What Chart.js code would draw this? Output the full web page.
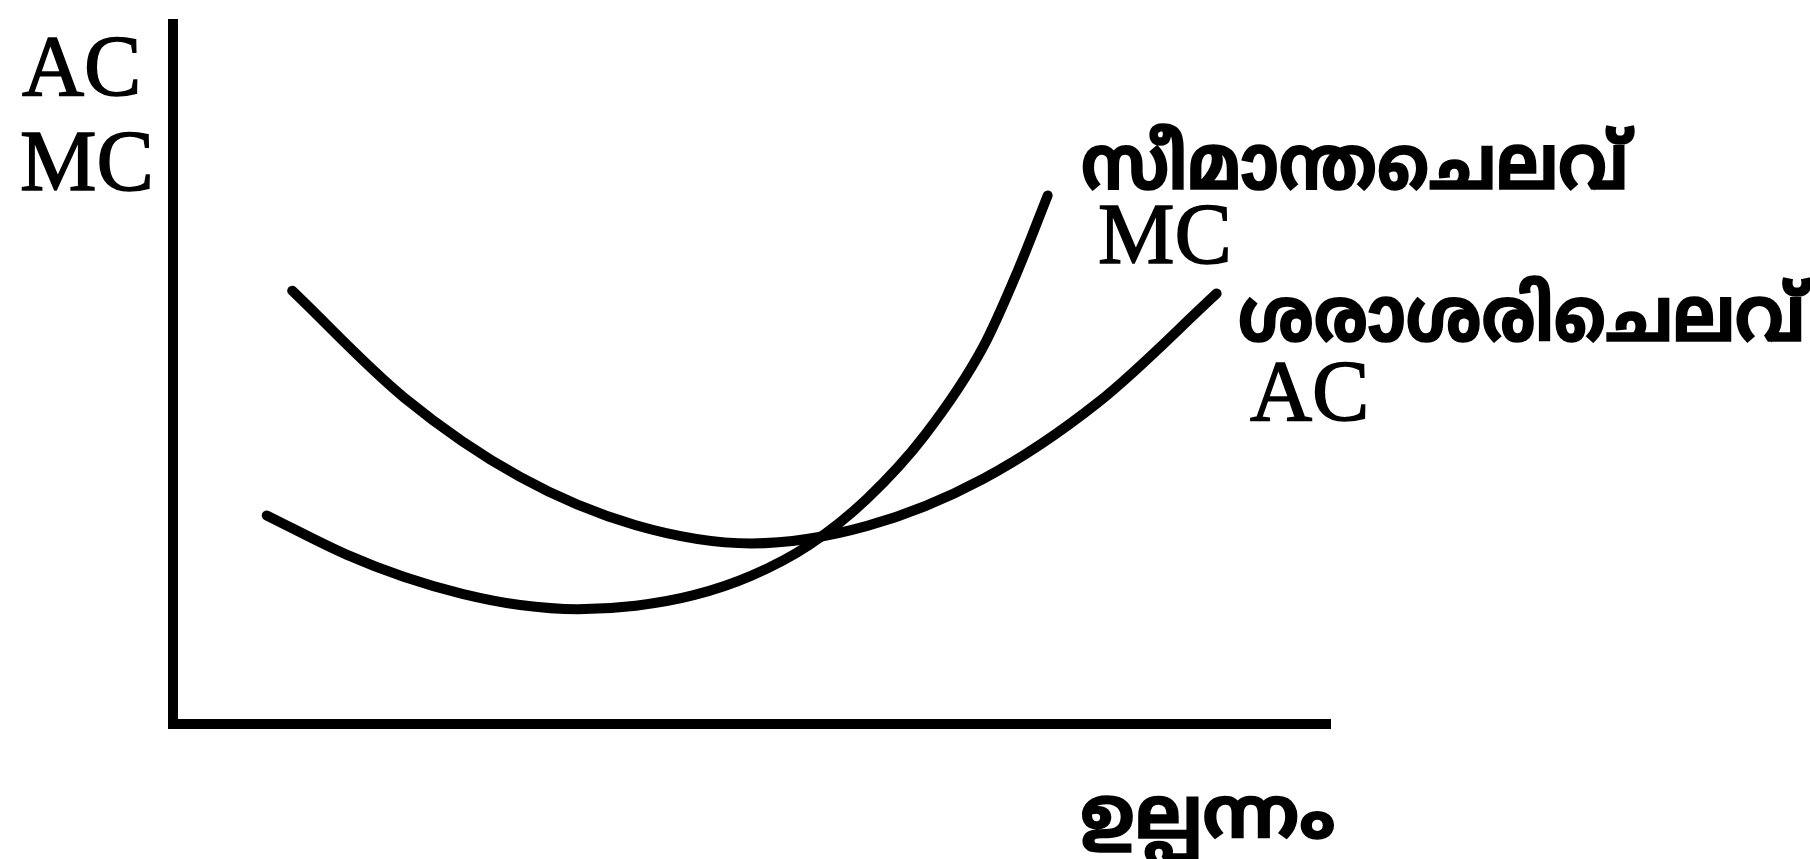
<!DOCTYPE html>
<html>
<head>
<meta charset="utf-8">
<script src="https://cdn.jsdelivr.net/npm/chart.js@4.4.1/dist/chart.umd.min.js"></script>
<style>
  html, body { margin: 0; padding: 0; background: #fff; }
  #wrap { width: 1810px; height: 859px; }
</style>
</head>
<body>
<div id="wrap"><canvas id="costChart" width="1810" height="859"></canvas></div>
<script>
// Output (x) positions and cost values
const acOutput = [10.3, 20, 30, 40, 50, 60, 70, 80, 90.2];
const acCost   = [61.9, 46.6, 35.3, 28.4, 25.8, 28.3, 35.0, 46.0, 61.5];

const mcOutput = [8.1, 15, 20, 25, 30, 35, 40, 45, 50, 55, 60, 65, 70, 73, 75.6];
const mcCost   = [29.8, 24.2, 21.0, 18.6, 17.0, 16.4, 16.9, 18.4, 21.2, 25.6, 32.2, 41.3, 53.8, 64.7, 75.5];

// Labels
const yAxisLabel = ['AC', 'MC'];
const xAxisLabel = 'ഉല്പന്നം';
const mcName = 'സീമാന്തചെലവ്';
const acName = 'ശരാശരിചെലവ്';

const toPoints = (xs, ys) => xs.map((x, i) => ({ x: x, y: ys[i] }));

const serif = '"Liberation Serif", "DejaVu Serif", serif';
const mal = '"Noto Sans Malayalam", "Noto Sans", "DejaVu Sans", sans-serif';

// Draw the text labels around the diagram
const labelPlugin = {
  id: 'labels',
  afterDraw(chart) {
    const ctx = chart.ctx;
    ctx.save();
    ctx.fillStyle = '#000';
    ctx.strokeStyle = '#000';
    ctx.lineWidth = 1.5;
    ctx.textBaseline = 'alphabetic';
    ctx.textAlign = 'left';

    const put = (t, x, y) => { ctx.fillText(t, x, y); ctx.strokeText(t, x, y); };
    // malayalam glyphs in the scan are a bit taller than this font
    const putTall = (t, x, y) => {
      ctx.save();
      ctx.translate(x, y);
      ctx.scale(1, 1.15);
      put(t, 0, 0);
      ctx.restore();
    };

    ctx.font = '86px ' + serif;
    put(yAxisLabel[0], 22, 95);
    put(yAxisLabel[1], 20, 190);
    put('MC', 1098, 263);
    put('AC', 1250, 420);

    ctx.font = 'bold 66px ' + mal;
    putTall(mcName, 1081, 189);
    putTall(acName, 1238, 341);
    ctx.font = 'bold 72px ' + mal;
    put(xAxisLabel, 1080, 838);
    ctx.restore();
  }
};

const lineStyle = {
  borderColor: '#000',
  borderWidth: 10,
  borderCapStyle: 'round',
  pointRadius: 0,
  cubicInterpolationMode: 'monotone',
  fill: false,
  clip: false
};

const ctx = document.getElementById('costChart').getContext('2d');
new Chart(ctx, {
  type: 'line',
  data: {
    datasets: [
      Object.assign({ label: 'AC', data: toPoints(acOutput, acCost) }, lineStyle),
      Object.assign({ label: 'MC', data: toPoints(mcOutput, mcCost) }, lineStyle)
    ]
  },
  options: {
    responsive: false,
    animation: false,
    layout: { padding: { left: 173, top: 24, right: 480, bottom: 135 } },
    plugins: {
      legend: { display: false },
      tooltip: { enabled: false }
    },
    scales: {
      x: {
        type: 'linear', min: 0, max: 100,
        grid: { display: false, drawTicks: false },
        ticks: { display: false },
        border: { display: true, color: '#000', width: 10 }
      },
      y: {
        type: 'linear', min: 0, max: 100,
        grid: { display: false, drawTicks: false },
        ticks: { display: false },
        border: { display: true, color: '#000', width: 10 }
      }
    }
  },
  plugins: [labelPlugin]
});
</script>
</body>
</html>
